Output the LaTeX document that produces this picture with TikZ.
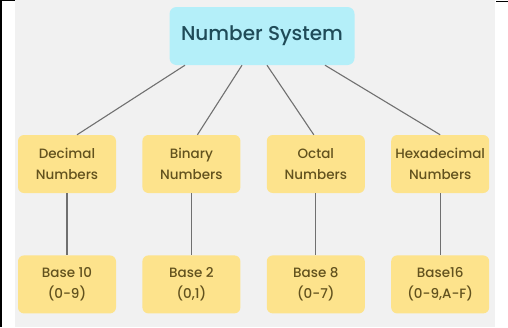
\documentclass[tikz,border=0pt]{standalone}
\usepackage{fontspec}
\setmainfont{Poppins}[UprightFont=*-Medium]
\usetikzlibrary{positioning}
\definecolor{skyfill}{HTML}{B4EFF9}
\definecolor{skytext}{HTML}{1F4B58}
\definecolor{sandfill}{HTML}{FDE38C}
\definecolor{sandtext}{HTML}{62521E}
\definecolor{linkgray}{HTML}{707070}
\definecolor{paper}{HTML}{F1F1F1}

\begin{document}
\begin{tikzpicture}[x=1pt,y=1pt,node distance=26pt,
	root node/.style={rectangle,rounded corners=7pt,fill=skyfill,text=skytext,minimum width=185pt,minimum height=58pt,font=\fontsize{20}{22}\selectfont},
	kind node/.style={rectangle,rounded corners=6pt,fill=sandfill,text=sandtext,minimum width=98pt,minimum height=58pt,align=center,font=\fontsize{13.5}{21}\selectfont},
	link/.style={draw=linkgray,line width=1.1pt}]
	
	\useasboundingbox (0,0) rectangle (508,-327);
	\fill[paper] (15,0) rectangle (495,-327);
	\fill (0,0) rectangle (2,-327);
	\fill (0,0) rectangle (15,-1.2);
	\fill (496,-0.5) rectangle (508,-1.7);
	
	\node[root node] (sys) at (262,-36) {Number System};
	
	\node[kind node] (dec) at (67,-164) {Decimal\\Numbers};
	\node[kind node] (bin) [right=of dec] {Binary\\Numbers};
	\node[kind node] (oct) [right=of bin] {Octal\\Numbers};
	\node[kind node] (hex) [right=of oct] {Hexadecimal\\Numbers};
	
	\node[kind node] (decbase) [below=62pt of dec] {Base 10\\(0-9)};
	\node[kind node] (binbase) [below=62pt of bin] {Base 2\\(0,1)};
	\node[kind node] (octbase) [below=62pt of oct] {Base 8\\(0-7)};
	\node[kind node] (hexbase) [below=62pt of hex] {Base16\\(0-9,A-F)};
	
	\draw[link] ([xshift=-77pt]sys.south) -- ([xshift=10pt]dec.north);
	\draw[link] ([xshift=-20pt]sys.south) -- ([xshift=6pt]bin.north);
	\draw[link] ([xshift=5pt]sys.south) -- ([xshift=-2pt]oct.north);
	\draw[link] ([xshift=63pt]sys.south) -- (hex.north);
	
	\draw[link] (dec) -- (decbase);
	\draw[link] (bin) -- (binbase);
	\draw[link] (oct) -- (octbase);
	\draw[link] (hex) -- (hexbase);
	
\end{tikzpicture}
\end{document}
